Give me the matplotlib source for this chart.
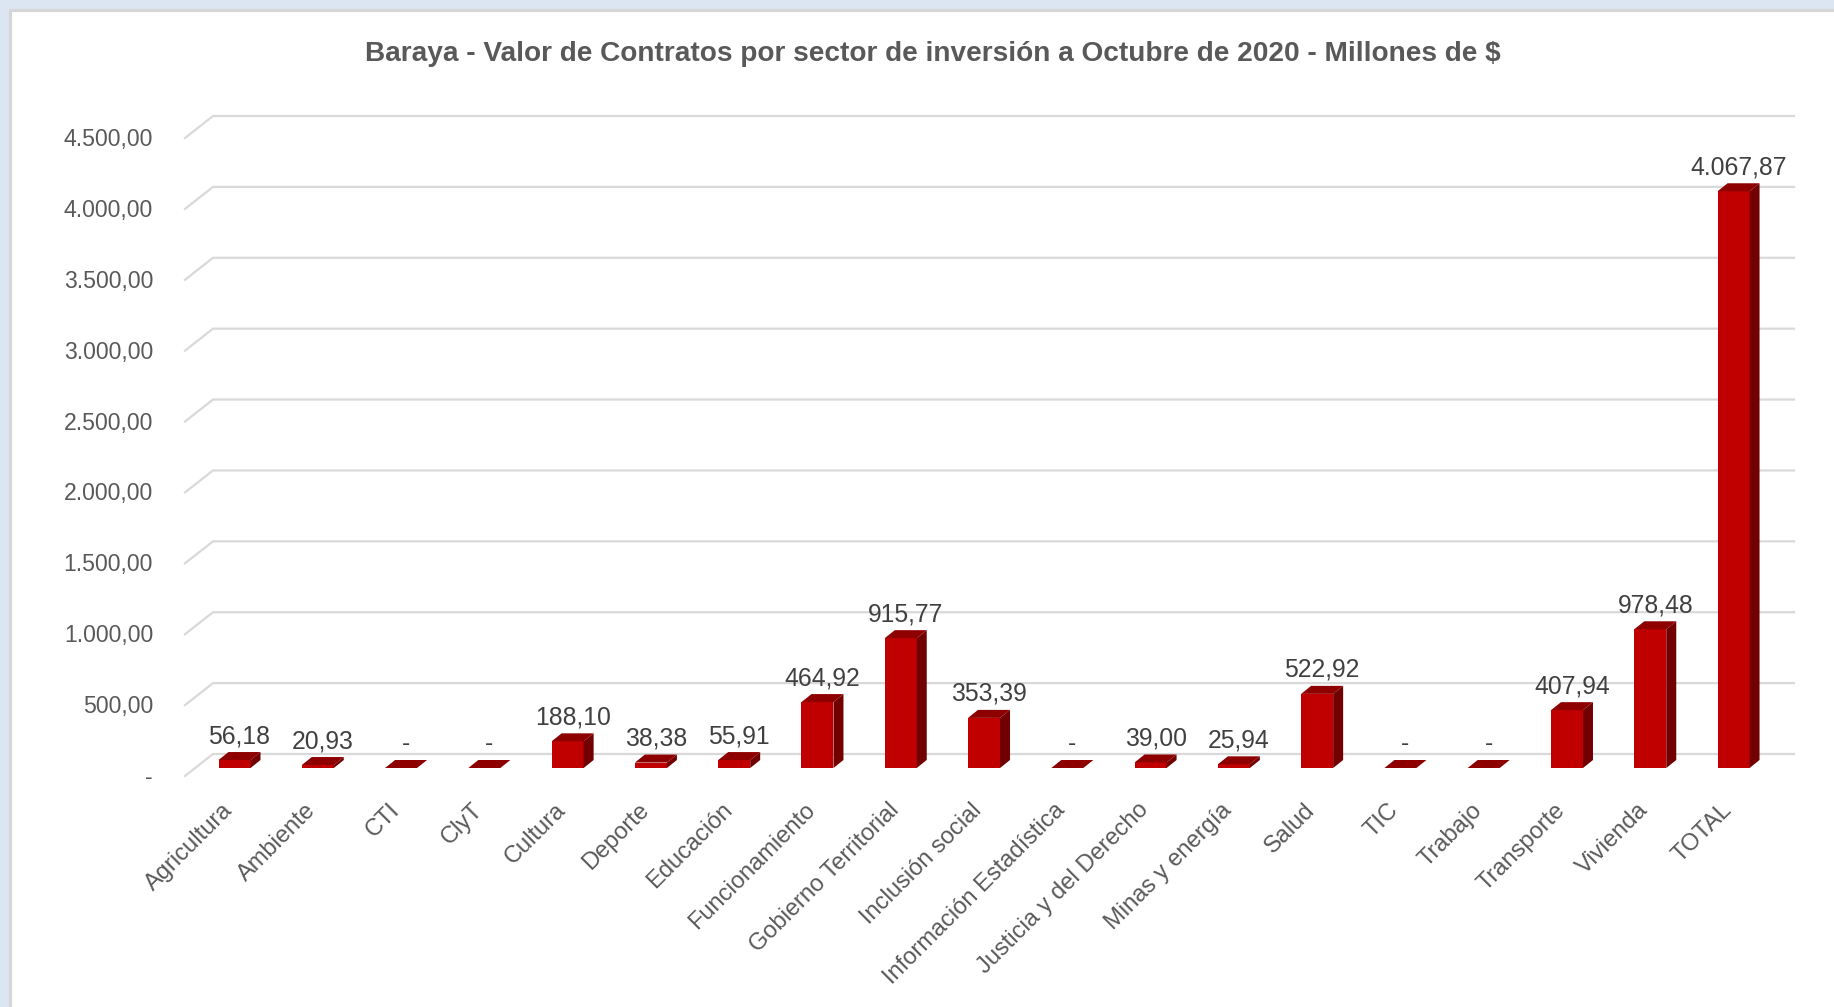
import numpy as np
import matplotlib
matplotlib.use('Agg')
import matplotlib.pyplot as plt
from matplotlib.patches import Polygon, Rectangle
from matplotlib.transforms import ScaledTranslation

SECTORES = ['Agricultura', 'Ambiente', 'CTI', 'ClyT', 'Cultura', 'Deporte', 'Educación',
            'Funcionamiento', 'Gobierno Territorial', 'Inclusión social', 'Información Estadística',
            'Justicia y del Derecho', 'Minas y energía', 'Salud', 'TIC', 'Trabajo', 'Transporte',
            'Vivienda', 'TOTAL']
VALORES = [56.18, 20.93, 0, 0, 188.10, 38.38, 55.91, 464.92, 915.77, 353.39, 0,
           39.00, 25.94, 522.92, 0, 0, 407.94, 978.48, 4067.87]
YTICKS = [0, 500, 1000, 1500, 2000, 2500, 3000, 3500, 4000, 4500]
TITULO = 'Baraya - Valor de Contratos por sector de inversión a Octubre de 2020 - Millones de $'

W, H, DPI = 1834, 1007, 100
GRIS = '#595959'
ROJO, ROJO_TOPE, ROJO_LADO = '#C00000', '#8E0000', '#730000'
FUENTE = ['Liberation Sans', 'DejaVu Sans']

# plot area in pixels: value 0 at y=768, value 4500 at y=130
X0, X1 = 185, 1794
Y0, Y1 = 768, 130
PASO = 83.28      # px between categories
X_PRIMERO = 234.5 # px of first category centre
ANCHO_PX = 32
PROF_X, PROF_Y = 10, 8      # bar depth in px
PISO_X, PISO_Y = 28, 22     # floor depth in px


def formato_es(valor):
    '''Spanish number format: 4.067,87 ; zero shown as a dash.'''
    if valor == 0:
        return '-'
    txt = '{:,.2f}'.format(valor)
    return txt.replace(',', 'X').replace('.', ',').replace('X', '.')


fig = plt.figure(figsize=(W / DPI, H / DPI), dpi=DPI)
fig.patch.set_facecolor('#DCE6F2')
fig.patches.append(Rectangle((9.5 / W, -0.05), 1.1, (H - 9.5) / H + 0.05, transform=fig.transFigure,
                             facecolor='white', edgecolor='#D6D6D6', linewidth=2.2, zorder=-10))

ax = fig.add_axes([X0 / W, 1 - Y0 / H, (X1 - X0) / W, (Y0 - Y1) / H])
ax.set_zorder(5)
ax.set_facecolor('none')
xlim = ((X0 - X_PRIMERO) / PASO, (X1 - X_PRIMERO) / PASO)
ax.set_xlim(*xlim)
ax.set_ylim(YTICKS[0], YTICKS[-1])

# px -> data units
sx = (X1 - X0) / (xlim[1] - xlim[0])
sy = (Y0 - Y1) / (YTICKS[-1] - YTICKS[0])
dx, dy = PROF_X / sx, PROF_Y / sy
ancho = ANCHO_PX / sx

# gridlines on the back wall with the slanted piece on the side wall
for v in YTICKS:
    gx = [xlim[0], xlim[0] + PISO_X / sx, xlim[1]]
    gy = [v - (PISO_Y - 14) / sy, v + 14 / sy, v + 14 / sy]
    ax.plot(gx, gy, color='#D9D9D9', lw=1.6, clip_on=False, zorder=1)

x = np.arange(len(SECTORES))
ax.bar(x, VALORES, width=ancho, color=ROJO, zorder=3, clip_on=False)
for xi, v in zip(x, VALORES):
    izq, der = xi - ancho / 2, xi + ancho / 2
    tope = Polygon([(izq, v), (der, v), (der + dx, v + dy), (izq + dx, v + dy)],
                   closed=True, facecolor=ROJO_TOPE, edgecolor='none', zorder=3, clip_on=False)
    lado = Polygon([(der, 0), (der, v), (der + dx, v + dy), (der + dx, dy)],
                   closed=True, facecolor=ROJO_LADO, edgecolor='none', zorder=3, clip_on=False)
    ax.add_patch(tope)
    ax.add_patch(lado)
    ax.annotate(formato_es(v), (xi + dx / 2, v + dy), xytext=(0, 4), textcoords='offset pixels',
                ha='center', va='bottom', fontsize=17.8, color='#404040', family=FUENTE)

for s in ax.spines.values():
    s.set_visible(False)
ax.tick_params(length=0)

ax.set_yticks(YTICKS, [formato_es(v) for v in YTICKS], fontsize=16.6, color=GRIS, family=FUENTE)
ax.tick_params(axis='y', pad=(X0 - 153) * 72 / DPI)
for lbl in ax.get_yticklabels():
    lbl.set_transform(lbl.get_transform() + ScaledTranslation(0, -7 / DPI, fig.dpi_scale_trans))

ax.set_xticks(x, SECTORES, rotation=45, ha='right', va='top', rotation_mode='anchor',
              fontsize=17, color=GRIS, family=FUENTE)
ax.tick_params(axis='x', pad=31 * 72 / DPI)
for lbl in ax.get_xticklabels():
    lbl.set_transform(lbl.get_transform() + ScaledTranslation(-13 / DPI, 0, fig.dpi_scale_trans))

fig.text(933 / W, 1 - 54 / H, TITULO, ha='center', va='center', fontsize=20.2, fontweight='bold',
         color=GRIS, family=FUENTE)

plt.savefig('out.png', dpi=DPI, facecolor=fig.get_facecolor())
